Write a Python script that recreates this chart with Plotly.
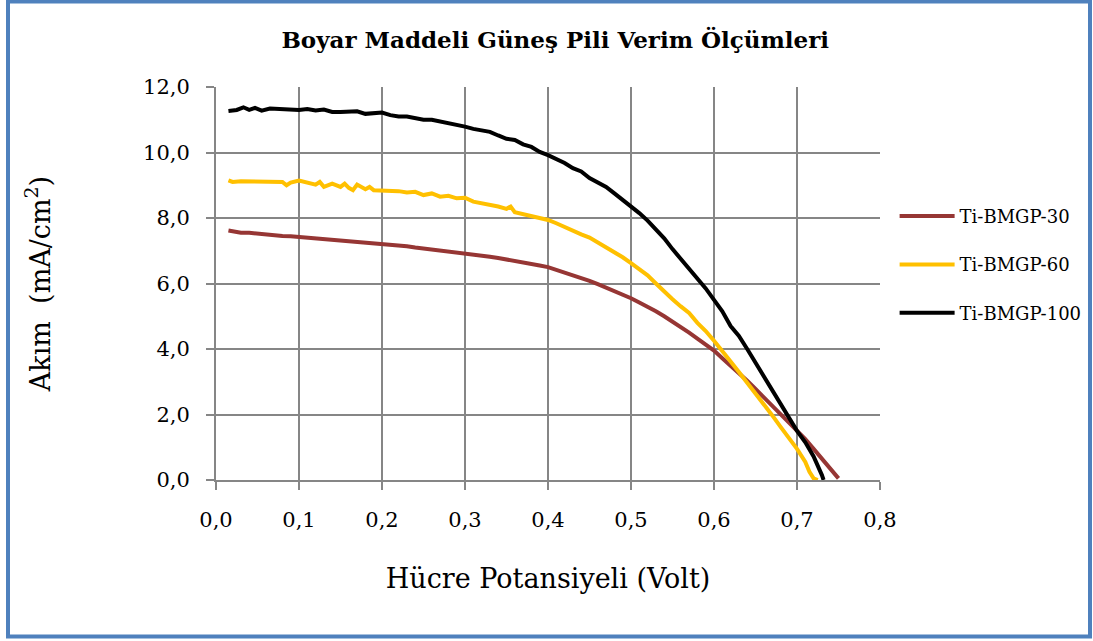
import plotly.graph_objects as go

# Ti-BMGP-30
v30 = [0.015, 0.02, 0.03, 0.04, 0.05, 0.06, 0.07, 0.08, 0.09, 0.10, 0.11, 0.12, 0.13, 0.14,
       0.15, 0.16, 0.17, 0.18, 0.19, 0.20, 0.21, 0.22, 0.23, 0.24, 0.25, 0.26, 0.27, 0.28,
       0.29, 0.30, 0.31, 0.32, 0.33, 0.34, 0.35, 0.36, 0.37, 0.38, 0.39, 0.40, 0.41, 0.42,
       0.43, 0.44, 0.45, 0.46, 0.47, 0.48, 0.49, 0.50, 0.51, 0.52, 0.53, 0.54, 0.55, 0.56,
       0.57, 0.58, 0.59, 0.60, 0.61, 0.62, 0.63, 0.64, 0.65, 0.66, 0.67, 0.68, 0.69, 0.70,
       0.71, 0.72, 0.73, 0.74, 0.75]
i30 = [7.62, 7.60, 7.55, 7.55, 7.52, 7.50, 7.48, 7.45, 7.44, 7.42, 7.40, 7.38, 7.36, 7.35,
       7.33, 7.30, 7.29, 7.26, 7.24, 7.22, 7.20, 7.17, 7.14, 7.10, 7.07, 7.05, 7.02, 6.98,
       6.95, 6.92, 6.88, 6.85, 6.82, 6.78, 6.74, 6.70, 6.65, 6.60, 6.55, 6.50, 6.42, 6.34,
       6.27, 6.18, 6.08, 5.98, 5.88, 5.78, 5.67, 5.55, 5.42, 5.30, 5.15, 5.00, 4.84, 4.68,
       4.50, 4.32, 4.15, 3.95, 3.72, 3.50, 3.28, 3.03, 2.78, 2.53, 2.27, 2.02, 1.78, 1.52,
       1.25, 0.95, 0.65, 0.35, 0.05]

# Ti-BMGP-60
v60 = [0.015, 0.02, 0.03, 0.04, 0.05, 0.06, 0.07, 0.08, 0.085, 0.09, 0.10, 0.11, 0.12, 0.125,
       0.13, 0.14, 0.15, 0.155, 0.16, 0.165, 0.17, 0.18, 0.185, 0.19, 0.20, 0.21, 0.22, 0.23,
       0.24, 0.25, 0.26, 0.27, 0.28, 0.29, 0.30, 0.31, 0.32, 0.33, 0.34, 0.35, 0.355, 0.36,
       0.37, 0.38, 0.39, 0.40, 0.41, 0.42, 0.43, 0.44, 0.45, 0.46, 0.47, 0.48, 0.49, 0.50,
       0.51, 0.52, 0.53, 0.54, 0.55, 0.56, 0.57, 0.58, 0.59, 0.60, 0.61, 0.62, 0.63, 0.64,
       0.65, 0.66, 0.67, 0.68, 0.69, 0.70, 0.71, 0.715, 0.72, 0.725]
i60 = [9.15, 9.10, 9.12, 9.12, 9.12, 9.12, 9.12, 9.10, 9.00, 9.08, 9.14, 9.08, 9.02, 9.10,
       8.95, 9.05, 8.95, 9.05, 8.92, 8.85, 9.02, 8.88, 8.95, 8.85, 8.85, 8.82, 8.82, 8.78,
       8.80, 8.70, 8.75, 8.65, 8.68, 8.60, 8.62, 8.50, 8.45, 8.42, 8.35, 8.28, 8.35, 8.18,
       8.12, 8.05, 8.00, 7.94, 7.84, 7.72, 7.60, 7.50, 7.40, 7.25, 7.12, 6.95, 6.80, 6.62,
       6.45, 6.25, 6.00, 5.75, 5.52, 5.30, 5.10, 4.80, 4.55, 4.25, 3.95, 3.62, 3.30, 2.98,
       2.65, 2.30, 1.98, 1.63, 1.30, 0.95, 0.55, 0.25, 0.05, 0.00]

# Ti-BMGP-100
v100 = [0.015, 0.025, 0.033, 0.04, 0.047, 0.055, 0.065, 0.08, 0.10, 0.11, 0.12, 0.13, 0.14,
        0.15, 0.16, 0.17, 0.18, 0.19, 0.20, 0.21, 0.22, 0.23, 0.24, 0.25, 0.26, 0.27, 0.28,
        0.29, 0.30, 0.31, 0.32, 0.33, 0.34, 0.35, 0.36, 0.37, 0.38, 0.39, 0.40, 0.41, 0.42,
        0.43, 0.44, 0.45, 0.46, 0.47, 0.48, 0.49, 0.50, 0.51, 0.52, 0.53, 0.54, 0.55, 0.56,
        0.57, 0.58, 0.59, 0.60, 0.61, 0.62, 0.63, 0.64, 0.65, 0.66, 0.67, 0.68, 0.69, 0.70,
        0.71, 0.72, 0.73, 0.732]
i100 = [11.27, 11.30, 11.38, 11.30, 11.36, 11.28, 11.34, 11.32, 11.30, 11.33, 11.28, 11.31, 11.24,
        11.24, 11.25, 11.26, 11.18, 11.20, 11.22, 11.14, 11.10, 11.10, 11.05, 11.00, 11.00, 10.95, 10.92,
        10.86, 10.79, 10.72, 10.66, 10.63, 10.52, 10.42, 10.38, 10.25, 10.17, 10.02, 9.92, 9.80, 9.68,
        9.52, 9.42, 9.22, 9.10, 8.95, 8.75, 8.55, 8.38, 8.15, 7.92, 7.65, 7.38, 7.05, 6.75,
        6.48, 6.18, 5.85, 5.50, 5.15, 4.70, 4.40, 4.00, 3.58, 3.15, 2.75, 2.32, 1.90, 1.50,
        1.15, 0.72, 0.15, 0.00]

series_names = ["Ti-BMGP-30", "Ti-BMGP-60", "Ti-BMGP-100"]
series_colors = ["#963634", "#FFC000", "#000000"]
x_ticks = [0.0, 0.1, 0.2, 0.3, 0.4, 0.5, 0.6, 0.7, 0.8]
y_ticks = [0.0, 2.0, 4.0, 6.0, 8.0, 10.0, 12.0]

SERIF = "DejaVu Serif"
GRID = "#868686"

fig = go.Figure()
for name, color, xs, ys in zip(series_names, series_colors, [v30, v60, v100], [i30, i60, i100]):
    fig.add_trace(go.Scatter(
        x=xs, y=ys, mode="lines", name=name, legendgroup=name,
        line=dict(color=color, width=4, shape="linear"),
    ))

fig.update_layout(
    width=1093, height=641,
    margin=dict(l=216, r=213, t=87, b=161, autoexpand=False),
    paper_bgcolor="white", plot_bgcolor="white",
    separators=",.",
    title=dict(
        text="<b>Boyar Maddeli Güneş Pili Verim Ölçümleri</b>",
        font=dict(family=SERIF, size=23, color="black"),
        x=0.508, xanchor="center", y=0.937, yanchor="middle",
    ),
    legend=dict(
        x=1.022, xanchor="left", y=0.718, yanchor="top",
        font=dict(family=SERIF, size=18, color="black"),
        traceorder="grouped", tracegroupgap=22,
        bgcolor="rgba(0,0,0,0)", itemwidth=55,
    ),
    showlegend=True,
)

fig.update_xaxes(
    range=[0, 0.8], tickvals=x_ticks, tickformat=".1f",
    showgrid=True, gridcolor=GRID, gridwidth=2,
    showline=True, linecolor=GRID, linewidth=2,
    ticks="outside", ticklen=8, tickcolor=GRID, tickwidth=2,
    tickfont=dict(family=SERIF, size=21, color="black"),
    ticklabelstandoff=12,
    zeroline=False, automargin=False,
    title=dict(text="Hücre Potansiyeli (Volt)", font=dict(family=SERIF, size=27, color="black"), standoff=38),
)
fig.update_yaxes(
    range=[0, 12], tickvals=y_ticks, tickformat=".1f",
    showgrid=True, gridcolor=GRID, gridwidth=2,
    showline=True, linecolor=GRID, linewidth=2,
    ticks="outside", ticklen=8, tickcolor=GRID, tickwidth=2,
    tickfont=dict(family=SERIF, size=21, color="black"),
    ticklabelstandoff=12,
    zeroline=False, automargin=False,
    title=dict(text="Akım  (mA/cm<sup>2</sup>)", font=dict(family=SERIF, size=27, color="black"), standoff=85),
)

# blue frame around the chart
fig.add_shape(
    type="rect", xref="paper", yref="paper",
    x0=(8 - 216) / 664, x1=(1090 - 216) / 664,
    y0=(480 - 636.5) / 393, y1=(480 - 1.5) / 393,
    line=dict(color="#4F81BD", width=4), fillcolor="rgba(0,0,0,0)", layer="below",
)

fig.write_html("out.html")
